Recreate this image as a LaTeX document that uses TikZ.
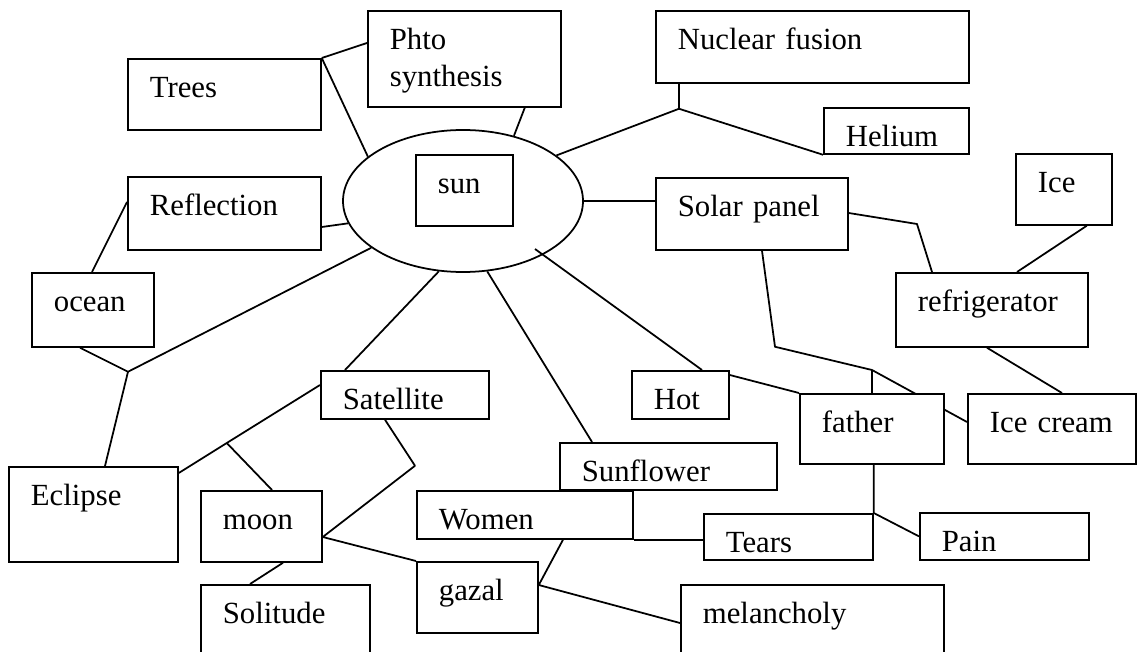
\documentclass[tikz,border=0pt]{standalone}
\usepackage{fontspec}
\setmainfont{Liberation Serif}
\usetikzlibrary{shapes.geometric, calc, backgrounds}
\tikzset{
  % Text box: #1 = text width, #2 = room left below the first baseline
  bx/.style 2 args={
    rectangle, draw, fill=white, line width=1pt,
    anchor=north west, align=left,
    font=\fontsize{17.5}{21}\selectfont,
    inner xsep=4.4mm, inner ysep=0pt,
    text height=7.8mm, text width=#1, text depth=#2
  },
  % Ring round the centre word
  sunring/.style={ellipse, draw, line width=1pt,
    minimum width=48mm, minimum height=28.4mm, inner sep=0pt},
  lnk/.style={line width=1pt, line join=round}
}

\begin{document}
\begin{tikzpicture}[x=0.2mm, y=-0.2mm]

  \useasboundingbox (0,0) rectangle (1140,652);
  \clip (0,0) rectangle (1140,652);

  %% ── Centre ─────────────────────────────────────────────────────────────────
  \node[sunring] (sunell) at (463,201) {};
  \node[bx={10.6mm}{6.4mm}] (sunbox) at (415,154) {sun};

  %% ── Left side ──────────────────────────────────────────────────────────────
  \node[bx={29.8mm}{6.4mm}]  (trees)   at (127,58)  {Trees};
  \node[bx={29.8mm}{11.4mm}] (phto)    at (367,10)  {Phto\\synthesis};
  \node[bx={29.8mm}{6.8mm}]  (refl)    at (127,176) {Reflection};
  \node[bx={15.6mm}{7.0mm}]  (ocean)   at (31,272)  {ocean};
  \node[bx={25.0mm}{11.2mm}] (eclipse) at (8,466)   {Eclipse};

  %% ── Right side ─────────────────────────────────────────────────────────────
  \node[bx={53.8mm}{6.6mm}] (nuclear)  at (655,10)  {Nuclear fusion};
  \node[bx={20.2mm}{1.4mm}] (helium)   at (823,107) {Helium};
  \node[bx={29.6mm}{6.6mm}] (solar)    at (655,177) {Solar panel};
  \node[bx={10.4mm}{6.4mm}] (ice)      at (1015,153) {Ice};
  \node[bx={29.6mm}{7.0mm}] (fridge)   at (895,272) {refrigerator};
  \node[bx={10.6mm}{1.8mm}] (hot)      at (631,370) {Hot};
  \node[bx={20.0mm}{6.2mm}] (father)   at (799,393) {father};
  \node[bx={24.8mm}{6.2mm}] (icecream) at (967,393) {Ice cream};
  \node[bx={25.0mm}{1.6mm}] (pain)     at (919,512) {Pain};

  %% ── Bottom ─────────────────────────────────────────────────────────────────
  \node[bx={24.8mm}{1.8mm}] (satellite)  at (320,370) {Satellite};
  \node[bx={34.6mm}{1.6mm}] (sunflower)  at (559,442) {Sunflower};
  \node[bx={34.4mm}{1.8mm}] (women)      at (416,490) {Women};
  \node[bx={25.0mm}{1.4mm}] (tears)      at (703,513) {Tears};
  \node[bx={15.4mm}{6.4mm}] (moon)       at (200,490) {moon};
  \node[bx={15.4mm}{6.4mm}] (gazal)      at (416,561) {gazal};
  \node[bx={25.0mm}{8.2mm}] (solitude)   at (200,584) {Solitude};
  \node[bx={43.8mm}{8.2mm}] (melancholy) at (680,584) {melancholy};

  %% ── Links ──────────────────────────────────────────────────────────────────
  \begin{scope}[on background layer]
  \begin{scope}[lnk]
    \draw (trees.north east) -- ($(phto.north west)+(0,33)$);
    \draw (trees.north east) -- (sunell.155);
    \draw ($(phto.south east)+(-37,0)$) -- (sunell.52);

    \coordinate (nj) at ($(nuclear.south west)+(24,25)$);
    \draw ($(nuclear.south west)+(24,0)$) -- (nj) -- (sunell.26);
    \draw (nj) -- (helium.south west);

    \draw (sunell.east) -- (sunell.east -| solar.west);
    \draw ($(solar.north east)+(0,36)$) -- ($(fridge.north west)+(22,-48)$)
      -- ($(fridge.north west)+(37,0)$);
    \draw ($(ice.south east)+(-26,0)$) -- ($(fridge.north west)+(122,0)$);
    \draw ($(fridge.south west)+(92,0)$) -- ($(icecream.north west)+(95,0)$);

    \coordinate (fj) at ($(father.north west)+(73,-23)$);
    \draw ($(solar.south west)+(107,0)$) -- ($(solar.south west)+(120,96)$)
      -- (fj) -- ($(icecream.north west)+(0,29)$);
    \draw (fj) -- (fj |- father.north);
    \draw ($(hot.north east)+(0,5)$) -- (father.north west);
    \draw ($(sunell.center)+(72,48)$) -- ($(hot.north west)+(71,0)$);
    \draw (tears.north east |- father.south) -- (tears.north east) -- (pain.west);

    \draw (sunell.-71) -- ($(sunflower.north west)+(33,0)$);
    \draw (women.south east) -- (women.south east -| tears.west);
    \draw ($(women.south west)+(147,0)$) -- ($(gazal.north east)+(0,24)$)
      -- ($(melancholy.north west)+(0,39)$);

    \draw (sunell.-109) -- ($(satellite.north west)+(25,0)$);
    \coordinate (mj) at ($(eclipse.north east)+(48,-23)$);
    \draw ($(eclipse.north east)+(0,7)$) -- (mj) -- ($(satellite.north west)+(0,15)$);
    \draw (mj) -- ($(moon.north west)+(72,0)$);
    \draw ($(satellite.south west)+(65,0)$) -- ($(satellite.south west)+(95,46)$)
      -- ($(moon.north east)+(0,47)$) -- (gazal.north west);
    \draw ($(moon.south west)+(83,0)$) -- ($(solitude.north west)+(50,0)$);

    \draw ($(refl.north east)+(0,51)$) -- (sunell.191);
    \draw ($(refl.north west)+(0,26)$) -- ($(ocean.north west)+(61,0)$);
    \coordinate (oj) at ($(ocean.south west)+(97,24)$);
    \draw (sunell.207) -- (oj) -- ($(ocean.south west)+(49,0)$);
    \draw (oj) -- ($(eclipse.north west)+(97,0)$);
  \end{scope}
  \end{scope}

\end{tikzpicture}
\end{document}
